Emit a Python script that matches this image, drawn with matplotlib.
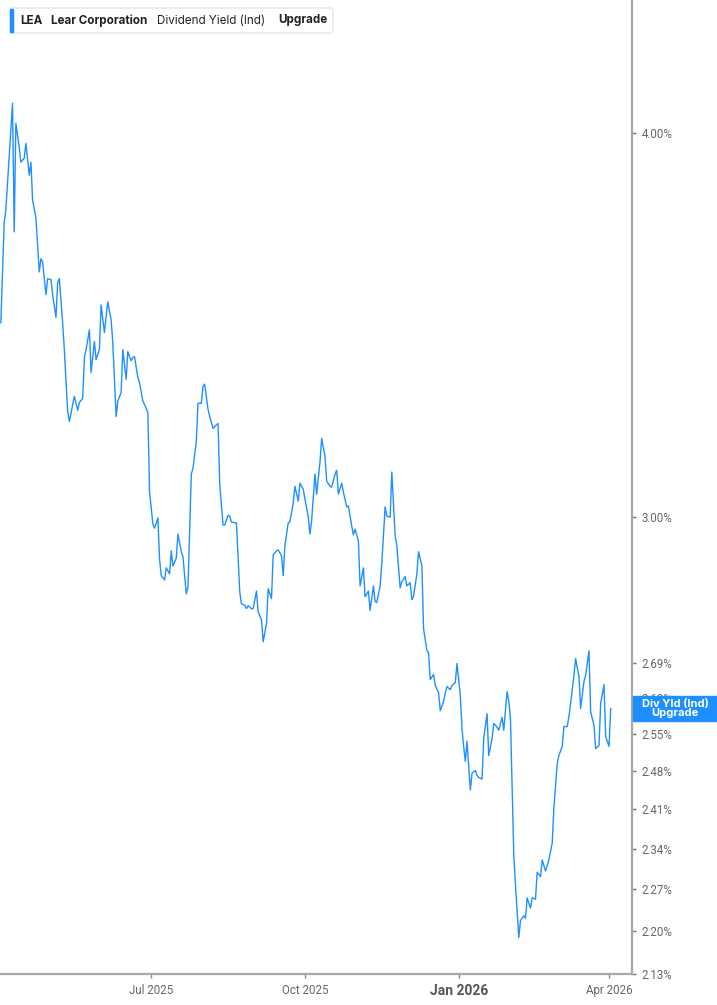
import numpy as np
import pandas as pd
import matplotlib
matplotlib.use("Agg")
import matplotlib.pyplot as plt
from matplotlib.patches import Rectangle, FancyBboxPatch
from matplotlib.ticker import FixedLocator, FixedFormatter, NullLocator

# dividend yield (%)
dates = [
    "2025-04-02", "2025-04-04", "2025-04-05", "2025-04-09", "2025-04-10", "2025-04-11",
    "2025-04-13", "2025-04-14", "2025-04-16", "2025-04-17", "2025-04-19", "2025-04-20",
    "2025-04-21", "2025-04-23", "2025-04-25", "2025-04-26", "2025-04-27", "2025-04-29",
    "2025-04-30", "2025-05-02", "2025-05-03", "2025-05-05", "2025-05-06", "2025-05-07",
    "2025-05-09", "2025-05-10", "2025-05-12", "2025-05-13", "2025-05-15", "2025-05-16",
    "2025-05-18", "2025-05-19", "2025-05-21", "2025-05-22", "2025-05-23", "2025-05-25",
    "2025-05-26", "2025-05-28", "2025-05-29", "2025-05-31", "2025-06-01", "2025-06-03",
    "2025-06-04", "2025-06-05", "2025-06-07", "2025-06-08", "2025-06-10", "2025-06-11",
    "2025-06-13", "2025-06-14", "2025-06-16", "2025-06-17", "2025-06-19", "2025-06-20",
    "2025-06-21", "2025-06-23", "2025-06-24", "2025-06-26", "2025-06-27", "2025-06-29",
    "2025-06-30", "2025-07-02", "2025-07-03", "2025-07-05", "2025-07-06", "2025-07-07",
    "2025-07-09", "2025-07-10", "2025-07-12", "2025-07-13", "2025-07-14", "2025-07-16",
    "2025-07-17", "2025-07-19", "2025-07-20", "2025-07-22", "2025-07-23", "2025-07-25",
    "2025-07-26", "2025-07-28", "2025-07-29", "2025-07-31", "2025-08-01", "2025-08-02",
    "2025-08-04", "2025-08-05", "2025-08-07", "2025-08-08", "2025-08-10", "2025-08-11",
    "2025-08-13", "2025-08-14", "2025-08-16", "2025-08-17", "2025-08-18", "2025-08-20",
    "2025-08-21", "2025-08-23", "2025-08-24", "2025-08-26", "2025-08-27", "2025-08-28",
    "2025-08-30", "2025-08-31", "2025-09-02", "2025-09-03", "2025-09-05", "2025-09-06",
    "2025-09-08", "2025-09-09", "2025-09-11", "2025-09-12", "2025-09-14", "2025-09-15",
    "2025-09-17", "2025-09-18", "2025-09-19", "2025-09-21", "2025-09-22", "2025-09-24",
    "2025-09-25", "2025-09-27", "2025-09-28", "2025-09-30", "2025-10-01", "2025-10-03",
    "2025-10-04", "2025-10-05", "2025-10-07", "2025-10-08", "2025-10-10", "2025-10-11",
    "2025-10-13", "2025-10-14", "2025-10-16", "2025-10-17", "2025-10-19", "2025-10-20",
    "2025-10-21", "2025-10-23", "2025-10-24", "2025-10-26", "2025-10-27", "2025-10-29",
    "2025-10-30", "2025-10-31", "2025-11-02", "2025-11-03", "2025-11-05", "2025-11-06",
    "2025-11-08", "2025-11-09", "2025-11-11", "2025-11-12", "2025-11-13", "2025-11-15",
    "2025-11-16", "2025-11-18", "2025-11-19", "2025-11-21", "2025-11-22", "2025-11-24",
    "2025-11-25", "2025-11-27", "2025-11-28", "2025-11-30", "2025-12-01", "2025-12-03",
    "2025-12-04", "2025-12-05", "2025-12-07", "2025-12-08", "2025-12-10", "2025-12-11",
    "2025-12-13", "2025-12-14", "2025-12-15", "2025-12-17", "2025-12-18", "2025-12-20",
    "2025-12-21", "2025-12-23", "2025-12-24", "2025-12-25", "2025-12-27", "2025-12-28",
    "2025-12-30", "2025-12-31", "2026-01-02", "2026-01-03", "2026-01-04", "2026-01-05",
    "2026-01-06", "2026-01-08", "2026-01-09", "2026-01-11", "2026-01-12", "2026-01-13",
    "2026-01-15", "2026-01-16", "2026-01-18", "2026-01-19", "2026-01-21", "2026-01-22",
    "2026-01-24", "2026-01-25", "2026-01-27", "2026-01-28", "2026-01-30", "2026-01-31",
    "2026-02-01", "2026-02-03", "2026-02-04", "2026-02-06", "2026-02-07", "2026-02-09",
    "2026-02-10", "2026-02-11", "2026-02-13", "2026-02-14", "2026-02-16", "2026-02-17",
    "2026-02-19", "2026-02-20", "2026-02-22", "2026-02-23", "2026-02-24", "2026-02-26",
    "2026-02-27", "2026-03-01", "2026-03-02", "2026-03-04", "2026-03-05", "2026-03-07",
    "2026-03-08", "2026-03-09", "2026-03-11", "2026-03-12", "2026-03-14", "2026-03-15",
    "2026-03-17", "2026-03-18", "2026-03-20", "2026-03-21", "2026-03-23", "2026-03-24",
    "2026-03-26", "2026-03-27", "2026-03-29", "2026-03-30", "2026-04-01", "2026-04-02",
]
div_yield = [
    3.470, 3.740, 3.776, 4.091, 3.715, 4.030,
    3.958, 3.914, 3.926, 3.970, 3.876, 3.914,
    3.805, 3.754, 3.605, 3.641, 3.632, 3.544,
    3.587, 3.584, 3.544, 3.484, 3.576, 3.587,
    3.470, 3.401, 3.247, 3.223, 3.264, 3.284,
    3.250, 3.269, 3.279, 3.381, 3.401, 3.452,
    3.343, 3.422, 3.376, 3.401, 3.517, 3.445,
    3.486, 3.525, 3.478, 3.419, 3.235, 3.272,
    3.294, 3.401, 3.326, 3.396, 3.373, 3.381,
    3.383, 3.331, 3.318, 3.272, 3.264, 3.245,
    3.057, 2.984, 2.975, 2.998, 2.907, 2.871,
    2.862, 2.888, 2.875, 2.925, 2.892, 2.909,
    2.962, 2.923, 2.912, 2.832, 2.847, 3.098,
    3.112, 3.175, 3.267, 3.267, 3.309, 3.314,
    3.252, 3.235, 3.206, 3.211, 3.218, 3.075,
    2.982, 2.982, 3.004, 3.002, 2.989, 2.987,
    2.987, 2.836, 2.811, 2.808, 2.801, 2.807,
    2.801, 2.801, 2.838, 2.794, 2.778, 2.732,
    2.770, 2.843, 2.822, 2.916, 2.925, 2.927,
    2.914, 2.871, 2.936, 2.987, 2.989, 3.032,
    3.070, 3.036, 3.077, 3.063, 3.041, 3.000,
    2.962, 2.991, 3.098, 3.052, 3.126, 3.182,
    3.140, 3.082, 3.070, 3.068, 3.098, 3.107,
    3.052, 3.077, 3.057, 3.023, 3.025, 2.980,
    2.960, 2.973, 2.947, 2.849, 2.888, 2.826,
    2.838, 2.797, 2.849, 2.816, 2.814, 2.849,
    2.897, 3.023, 3.002, 3.000, 3.103, 2.958,
    2.936, 2.845, 2.858, 2.869, 2.849, 2.856,
    2.820, 2.827, 2.875, 2.923, 2.892, 2.759,
    2.714, 2.710, 2.656, 2.666, 2.644, 2.630,
    2.595, 2.613, 2.630, 2.642, 2.636, 2.644,
    2.650, 2.688, 2.624, 2.560, 2.526, 2.498,
    2.536, 2.445, 2.476, 2.481, 2.472, 2.468,
    2.465, 2.541, 2.589, 2.509, 2.541, 2.570,
    2.563, 2.557, 2.582, 2.557, 2.632, 2.613,
    2.580, 2.329, 2.277, 2.189, 2.217, 2.225,
    2.221, 2.255, 2.238, 2.255, 2.253, 2.299,
    2.291, 2.320, 2.301, 2.310, 2.320, 2.350,
    2.412, 2.494, 2.509, 2.526, 2.564, 2.564,
    2.584, 2.609, 2.664, 2.698, 2.662, 2.599,
    2.652, 2.664, 2.714, 2.593, 2.566, 2.522,
    2.528, 2.609, 2.646, 2.545, 2.526, 2.599,
]

ytick_vals = [4.00, 3.00, 2.69, 2.62, 2.55, 2.48, 2.41, 2.34, 2.27, 2.20, 2.13]
ytick_labels = ["4.00%", "3.00%", "2.69%", "2.62%", "2.55%", "2.48%",
                "2.41%", "2.34%", "2.27%", "2.20%", "2.13%"]
xtick_dates = ["2025-07-01", "2025-10-01", "2026-01-01", "2026-04-01"]
xtick_labels = ["Jul 2025", "Oct 2025", "Jan 2026", "Apr 2026"]

legend_parts = [("LEA", "bold"), ("Lear Corporation", "bold"),
                ("Dividend Yield (Ind)", "normal"), ("Upgrade", "bold")]
end_label = "Div Yld (Ind)\nUpgrade"

line_color = "#1e8fff"
axis_grey = "#a9a9a9"
text_grey = "#666666"

W, H = 717, 1005
fig = plt.figure(figsize=(W / 100, H / 100), dpi=100)
ax = fig.add_axes([0, 31 / H, 632 / W, 974 / H])

x = pd.to_datetime(dates)
ax.plot(x, div_yield, color=line_color, linewidth=1.0)

ax.set_yscale("log")
ax.set_ylim(2.13, 4.42)
ax.set_xlim(pd.Timestamp("2025-04-01 12:00"), pd.Timestamp("2026-04-14 18:00"))

ax.yaxis.tick_right()
ax.yaxis.set_major_locator(FixedLocator(ytick_vals))
ax.yaxis.set_major_formatter(FixedFormatter(ytick_labels))
ax.yaxis.set_minor_locator(NullLocator())
ax.set_xticks(pd.to_datetime(xtick_dates))
ax.set_xticklabels(xtick_labels)

for side in ["left", "top"]:
    ax.spines[side].set_visible(False)
for side in ["right", "bottom"]:
    ax.spines[side].set_color(axis_grey)
    ax.spines[side].set_linewidth(1.6)

ax.tick_params(axis="y", which="major", direction="out", length=3, width=1,
               color="#777777", pad=4, labelsize=8.3, labelcolor=text_grey)
ax.tick_params(axis="x", which="major", direction="out", length=3, width=1,
               color="#888888", pad=4, labelsize=8.3, labelcolor=text_grey)
for lab in ax.get_yticklabels() + ax.get_xticklabels():
    lab.set_fontfamily("Roboto")
for lab in ax.get_xticklabels():
    if lab.get_text() == "Jan 2026":
        lab.set_fontweight("bold")
        lab.set_fontsize(10)
        lab.set_color("#555555")

# header legend box
fig.add_artist(FancyBboxPatch((10 / W, 1 - 33 / H), 323 / W, 25 / H,
                              boxstyle="round,pad=0,rounding_size=0.004",
                              transform=fig.transFigure, facecolor="white",
                              edgecolor="#e6e6e6", linewidth=1))
fig.add_artist(Rectangle((9.5 / W, 1 - 32 / H), 3 / W, 23 / H,
                         transform=fig.transFigure, color=line_color))
xs = [20, 51, 157, 278]
for (txt, wt), xp in zip(legend_parts, xs):
    fig.text(xp / W, 1 - 20.5 / H, txt, fontsize=8.4, fontweight=wt,
             family="Inter", color="#222222", va="center", ha="left")

# end-of-series label on the right axis, placed at the last value
fig.canvas.draw()
_, y_disp = ax.transData.transform((ax.get_xlim()[1], div_yield[-1]))
yc = y_disp / fig.bbox.height
fig.add_artist(Rectangle((633 / W, yc - 12.5 / H), 84 / W, 25 / H,
                         transform=fig.transFigure, color=line_color, zorder=5))
fig.text(675 / W, yc, end_label, fontsize=8, fontweight="bold", family="Inter",
         color="white", ha="center", va="center", linespacing=0.95, zorder=6)

fig.savefig("out.png", dpi=100)
